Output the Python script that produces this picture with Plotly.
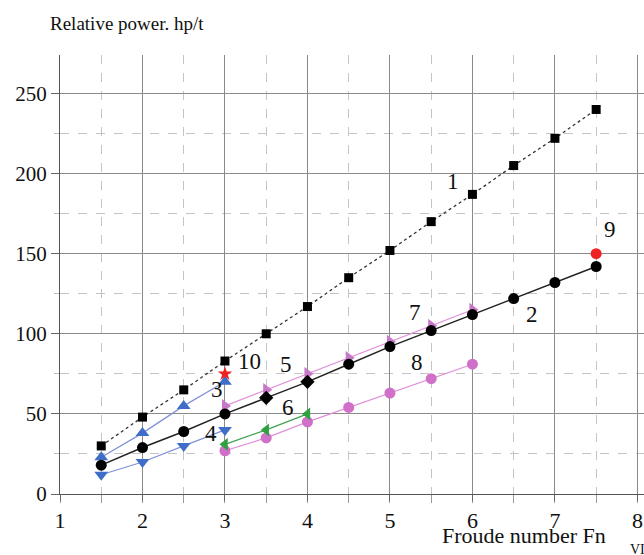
import plotly.graph_objects as go

# ---- data ----
x1 = [1.5, 2, 2.5, 3, 3.5, 4, 4.5, 5, 5.5, 6, 6.5, 7, 7.5]
y1 = [30, 48, 65, 83, 100, 117, 135, 152, 170, 187, 205, 222, 240]
x2 = [1.5, 2, 2.5, 3, 3.5, 4, 4.5, 5, 5.5, 6, 6.5, 7, 7.5]
y2 = [18, 29, 39, 50, 60, 70, 81, 92, 102, 112, 122, 132, 142]
x3 = [1.5, 2, 2.5, 3]
y3 = [23, 38, 55, 70]
x4 = [1.5, 2, 2.5, 3]
y4 = [12, 20, 30, 40]
x5 = [3, 3.5, 4, 4.5, 5, 5.5, 6]
y5 = [55, 65, 75, 85, 95, 105, 115]
x6 = [3, 3.5, 4]
y6 = [31, 40, 50]
x8 = [3, 3.5, 4, 4.5, 5, 5.5, 6]
y8 = [27, 35, 45, 54, 63, 72, 81]
x9 = [7.5]
y9 = [150]
x10 = [3]
y10 = [75]

label_text = ["1", "2", "3", "4", "5", "6", "7", "8", "9", "10"]
label_x = [5.77, 6.72, 2.9, 2.83, 3.74, 3.76, 5.3, 5.33, 7.67, 3.3]
label_y = [195, 112, 65, 38, 81, 54, 113, 82, 165, 83]

x_ticks = [1, 2, 3, 4, 5, 6, 7, 8]
y_ticks = [0, 50, 100, 150, 200, 250]

fig = go.Figure()

def add(x, y, line_color, mcolor, symbol, size, dash="solid", width=1.2):
    fig.add_trace(go.Scatter(
        x=x, y=y, mode="lines+markers",
        line=dict(color=line_color, width=width, dash=dash),
        marker=dict(color=mcolor, symbol=symbol, size=size, line=dict(width=0)),
        showlegend=False, cliponaxis=False))

add(x8, y8, "#e08fd8", "#d070c8", "circle", 11)
add(x6, y6, "#40a050", "#30a040", "triangle-left", 11)
add(x5, y5, "#e08fd8", "#c878c8", "triangle-right", 12)
add(x4, y4, "#8090d8", "#3f6ec8", "triangle-down", 12)
add(x3, y3, "#8090d8", "#3f6ec8", "triangle-up", 12)
sym2 = ["circle"] * len(x2)
sym2[4] = "diamond"
sym2[5] = "diamond"
add(x2, y2, "#222222", "#000000", sym2, 11, width=1.5)
add(x1, y1, "#333333", "#000000", "square", 9, dash="3px,3px", width=1.3)
fig.add_trace(go.Scatter(x=x9, y=y9, mode="markers",
                         marker=dict(color="#ee2222", symbol="circle", size=11),
                         showlegend=False, cliponaxis=False))
fig.add_trace(go.Scatter(x=x10, y=y10, mode="markers",
                         marker=dict(color="#ee2222", symbol="star", size=11),
                         showlegend=False, cliponaxis=False))

serif = "Liberation Serif"
for t, lx, ly in zip(label_text, label_x, label_y):
    fig.add_annotation(x=lx, y=ly, text=t, showarrow=False,
                       font=dict(family=serif, size=23, color="#111"))

fig.add_annotation(xref="paper", yref="paper", x=-0.02, y=1.0, yshift=32,
                   text="Relative power. hp/t", showarrow=False,
                   xanchor="left", yanchor="middle",
                   font=dict(family=serif, size=19, color="#111"))
fig.add_annotation(xref="paper", yref="paper", x=0.65, y=0, yshift=-41,
                   text="Froude number Fn", showarrow=False,
                   xanchor="left", yanchor="middle",
                   font=dict(family=serif, size=22, color="#111"))
fig.add_annotation(xref="paper", yref="paper", x=0.972, y=0, yshift=-55,
                   text="VI", showarrow=False,
                   xanchor="left", yanchor="middle",
                   font=dict(family=serif, size=14, color="#111"))

fig.update_xaxes(range=[1, 8.08], tickvals=x_ticks, ticktext=[str(v) for v in x_ticks],
                 automargin=False,
                 showgrid=True, gridcolor="#8a8a8a", gridwidth=1.3,
                 minor=dict(dtick=0.5, showgrid=True, gridcolor="#c4c4c4",
                            griddash="dash", gridwidth=1, ticks="outside",
                            ticklen=8, tickcolor="#999"),
                 ticks="outside", ticklen=6, tickcolor="#666",
                 showline=True, linecolor="#555", linewidth=1.3,
                 zeroline=False,
                 tickfont=dict(family=serif, size=22, color="#111"))
fig.update_yaxes(range=[0, 274], tickvals=y_ticks, ticktext=[str(v) for v in y_ticks],
                 automargin=False,
                 showgrid=True, gridcolor="#8a8a8a", gridwidth=1.3,
                 minor=dict(dtick=25, showgrid=True, gridcolor="#c4c4c4",
                            griddash="dash", gridwidth=1, ticks="outside",
                            ticklen=5, tickcolor="#bbb"),
                 ticks="outside", ticklen=8, tickcolor="#666",
                 showline=True, linecolor="#555", linewidth=1.3,
                 zeroline=False,
                 tickfont=dict(family=serif, size=21, color="#111"))

fig.update_layout(width=644, height=555,
                  margin=dict(l=60, r=0, t=55, b=61),
                  plot_bgcolor="white", paper_bgcolor="white")

fig.write_html("out.html", config={"displayModeBar": False},
               post_script="document.body.style.margin='0';document.body.style.overflow='hidden';")
